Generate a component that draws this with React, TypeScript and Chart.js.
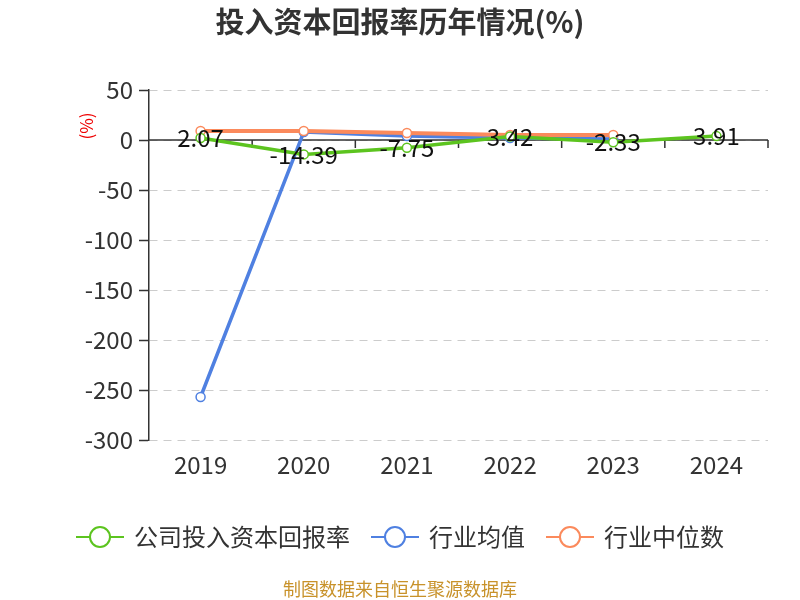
import React, { useEffect, useRef } from "react";
import { Chart, registerables } from "chart.js";

Chart.register(...registerables);

const categories = ["2019", "2020", "2021", "2022", "2023", "2024"];
const companyValues = [2.07, -14.39, -7.75, 3.42, -2.33, 3.91];
const industryAvg = [-257, 8, 4, 2, 1, null];
const industryMedian = [9, 9, 7, 5, 5, null];
const yTicks = [50, 0, -50, -100, -150, -200, -250, -300];

const FONT = '"Noto Sans CJK SC", "Noto Sans", sans-serif';
const GREEN = "#5cc41f";
const BLUE = "#4f80e1";
const ORANGE = "#fb8a5c";

const overlay = {
  id: "overlay",
  beforeDatasetsDraw(chart: any) {
    const { ctx, chartArea, scales } = chart;
    const y0 = scales.y.getPixelForValue(0);
    ctx.save();
    ctx.strokeStyle = "#333";
    ctx.lineWidth = 1.5;
    ctx.beginPath();
    ctx.moveTo(chartArea.left, y0);
    ctx.lineTo(chartArea.right, y0);
    const step = (chartArea.right - chartArea.left) / categories.length;
    for (let i = 1; i <= categories.length; i++) {
      const px = chartArea.left + step * i;
      ctx.moveTo(px, y0);
      ctx.lineTo(px, y0 + 8);
    }
    ctx.stroke();
    ctx.restore();
  },
  afterDraw(chart: any) {
    const { ctx } = chart;
    ctx.save();
    ctx.fillStyle = "#111";
    ctx.font = "24px " + FONT;
    ctx.textAlign = "center";
    ctx.textBaseline = "middle";
    const meta = chart.getDatasetMeta(0);
    meta.data.forEach((pt: any, i: number) => {
      ctx.fillText(companyValues[i].toFixed(2), pt.x, pt.y);
    });
    ctx.fillStyle = "#333";
    ctx.font = "bold 29px " + FONT;
    ctx.fillText("投入资本回报率历年情况(%)", 400, 22);
    ctx.save();
    ctx.translate(87, 126);
    ctx.rotate(-Math.PI / 2);
    ctx.fillStyle = "#e00";
    ctx.font = "17px " + FONT;
    ctx.fillText("(%)", 0, 0);
    ctx.restore();
    const items = [
      { label: "公司投入资本回报率", color: GREEN },
      { label: "行业均值", color: BLUE },
      { label: "行业中位数", color: ORANGE },
    ];
    ctx.font = "24px " + FONT;
    const iconW = 48;
    const tgap = 10;
    const gap = 21;
    let total = 0;
    const widths = items.map((it) => ctx.measureText(it.label).width);
    widths.forEach((w) => (total += iconW + tgap + w));
    total += gap * (items.length - 1);
    let lx = 400 - total / 2;
    const ly = 537;
    items.forEach((it, i) => {
      ctx.strokeStyle = it.color;
      ctx.lineWidth = 2;
      ctx.beginPath();
      ctx.moveTo(lx, ly);
      ctx.lineTo(lx + iconW, ly);
      ctx.stroke();
      ctx.beginPath();
      ctx.arc(lx + iconW / 2, ly, 10, 0, Math.PI * 2);
      ctx.fillStyle = "#fff";
      ctx.fill();
      ctx.stroke();
      ctx.fillStyle = "#333";
      ctx.textAlign = "left";
      ctx.fillText(it.label, lx + iconW + tgap, ly);
      lx += iconW + tgap + widths[i] + gap;
    });
    ctx.fillStyle = "#c8922a";
    ctx.font = "18px " + FONT;
    ctx.textAlign = "center";
    ctx.fillText("制图数据来自恒生聚源数据库", 400, 589);
    ctx.restore();
  },
};

export default function App() {
  const ref = useRef<HTMLCanvasElement>(null);
  useEffect(() => {
    const mk = (label: string, data: any[], color: string, order: number, width: number) => ({
      label,
      data,
      order,
      borderColor: color,
      backgroundColor: "#fff",
      borderWidth: width,
      pointRadius: 4.5,
      pointBorderWidth: 1.5,
      pointBackgroundColor: "#fff",
      pointBorderColor: color,
      tension: 0,
      spanGaps: false,
    });
    const chart = new Chart(ref.current!, {
      type: "line",
      data: {
        labels: categories,
        datasets: [
          mk("公司投入资本回报率", companyValues, GREEN, 0, 3.5),
          mk("行业均值", industryAvg, BLUE, 2, 3.5),
          mk("行业中位数", industryMedian, ORANGE, 1, 4),
        ],
      },
      options: {
        animation: false,
        responsive: false,
        devicePixelRatio: 1,
        layout: { padding: { top: 90, right: 32, left: 0, bottom: 0 } },
        plugins: { legend: { display: false }, title: { display: false }, tooltip: { enabled: false } },
        scales: {
          x: {
            offset: true,
            grid: { display: false, drawTicks: false },
            border: { display: false },
            ticks: { color: "#333", font: { size: 24, family: FONT }, padding: 10 },
            afterFit: (s: any) => {
              s.height = 160;
            },
          },
          y: {
            min: -300,
            max: 50,
            afterBuildTicks: (s: any) => {
              s.ticks = yTicks.map((v) => ({ value: v }));
            },
            grid: {
              color: "#ccc",
              lineWidth: 1,
              tickColor: "#333",
              tickLength: 10,
              tickBorderDash: [],
              tickWidth: 1.5,
            },
            border: { display: true, color: "#333", width: 1.5, dash: [8, 6] },
            ticks: { color: "#333", font: { size: 24, family: FONT }, padding: 6 },
            afterFit: (s: any) => {
              s.width = 149;
            },
          },
        },
      },
      plugins: [overlay],
    });
    return () => chart.destroy();
  }, []);
  return (
    <div style={{ position: "fixed", left: 0, top: 0, width: 800, height: 600, background: "#fff" }}>
      <canvas ref={ref} width={800} height={600} style={{ width: 800, height: 600 }} />
    </div>
  );
}
